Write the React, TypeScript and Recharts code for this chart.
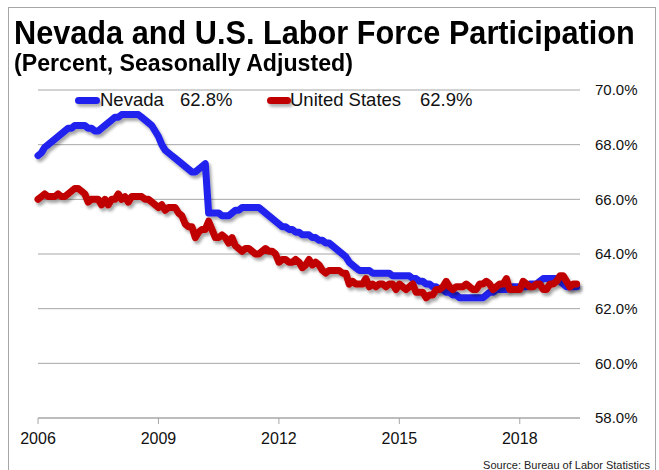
import React from 'react';
import { LineChart, Line, XAxis, YAxis, CartesianGrid } from 'recharts';

// months since Jan 2006, monthly through Jun 2019
const nevada = [
  67.6, 67.7, 67.9, 68.0, 68.1, 68.2, 68.3, 68.4, 68.5, 68.6, 68.6, 68.7,
  68.7, 68.7, 68.7, 68.6, 68.6, 68.5, 68.5, 68.6, 68.7, 68.8, 68.9, 69.0,
  69.0, 69.1, 69.1, 69.1, 69.1, 69.1, 69.1, 69.0, 68.9, 68.8, 68.7, 68.5,
  68.3, 68.0, 67.8, 67.7, 67.6, 67.5, 67.4, 67.3, 67.2, 67.1, 67.0, 67.0,
  67.1, 67.2, 67.3, 65.5, 65.5, 65.5, 65.5, 65.4, 65.4, 65.4, 65.5, 65.6,
  65.6, 65.7, 65.7, 65.7, 65.7, 65.7, 65.7, 65.6, 65.5, 65.4, 65.3, 65.2,
  65.1, 65.0, 65.0, 64.9, 64.9, 64.8, 64.8, 64.7, 64.7, 64.7, 64.6, 64.6,
  64.5, 64.5, 64.4, 64.4, 64.3, 64.2, 64.1, 64.0, 63.9, 63.7, 63.6, 63.5,
  63.4, 63.4, 63.4, 63.4, 63.3, 63.3, 63.3, 63.3, 63.3, 63.3, 63.2, 63.2,
  63.2, 63.2, 63.2, 63.2, 63.1, 63.1, 63.0, 63.0, 62.9, 62.9, 62.8, 62.8,
  62.7, 62.7, 62.6, 62.6, 62.5, 62.5, 62.4, 62.4, 62.4, 62.4, 62.4, 62.4,
  62.4, 62.4, 62.5, 62.6, 62.6, 62.7, 62.7, 62.7, 62.7, 62.8, 62.8, 62.8,
  62.8, 62.8, 62.8, 62.9, 62.9, 62.9, 63.0, 63.1, 63.1, 63.1, 63.1, 63.1,
  63.0, 62.9, 62.8, 62.8, 62.8, 62.8,
];

const unitedStates = [
  66.0, 66.1, 66.2, 66.1, 66.1, 66.1, 66.2, 66.1, 66.1, 66.2, 66.3, 66.4,
  66.4, 66.3, 66.2, 65.9, 66.0, 66.0, 66.0, 65.8, 66.0, 65.8, 66.0, 66.0,
  66.2, 66.0, 66.1, 65.9, 66.1, 66.1, 66.1, 66.1, 66.0, 66.0, 65.9, 65.8,
  65.7, 65.8, 65.6, 65.7, 65.7, 65.7, 65.5, 65.4, 65.1, 65.0, 65.0, 64.6,
  64.8, 64.9, 64.9, 65.2, 64.9, 64.6, 64.6, 64.7, 64.6, 64.4, 64.6, 64.3,
  64.2, 64.1, 64.2, 64.2, 64.1, 64.0, 64.0, 64.1, 64.2, 64.1, 64.1, 64.0,
  63.7, 63.8, 63.8, 63.7, 63.7, 63.8, 63.7, 63.5, 63.6, 63.8, 63.6, 63.7,
  63.6, 63.4, 63.3, 63.4, 63.4, 63.4, 63.4, 63.3, 63.3, 62.9, 63.0, 62.9,
  62.9, 62.9, 63.1, 62.8, 62.9, 62.8, 62.9, 62.9, 62.8, 62.9, 62.9, 62.7,
  62.9, 62.8, 62.7, 62.8, 62.9, 62.6, 62.6, 62.6, 62.4, 62.5, 62.5, 62.7,
  62.7, 62.8, 63.0, 62.8, 62.7, 62.8, 62.8, 62.8, 62.9, 62.8, 62.7, 62.7,
  62.9, 62.9, 63.0, 62.9, 62.7, 62.8, 62.9, 62.9, 63.1, 62.7, 62.7, 62.7,
  62.7, 63.0, 62.9, 62.8, 62.8, 62.9, 62.9, 62.7, 62.7, 62.9, 62.9, 63.0,
  63.2, 63.2, 63.0, 62.8, 62.9, 62.9,
];

const yearTicks = [2006, 2009, 2012, 2015, 2018];
const percentTicks = [58, 60, 62, 64, 66, 68, 70];

const data = nevada.map((v, i) => ({ m: i, nevada: v, us: unitedStates[i] }));

const BLUE = '#2020EE';
const RED = '#C00000';
const FONT = '"Liberation Sans", Arial, sans-serif';

const legendText: React.CSSProperties = {
  position: 'absolute',
  fontFamily: FONT,
  fontSize: 18.5,
  lineHeight: 1,
  color: '#111',
  whiteSpace: 'nowrap',
};

const swatch = (color: string): React.CSSProperties => ({
  position: 'absolute',
  height: 7,
  borderRadius: 3.5,
  background: color,
  boxShadow: '2px 3px 3px rgba(0,0,0,0.3)',
});

const App = () => {
  return (
    <div style={{ position: 'absolute', left: 0, top: 0, width: 659, height: 470, overflow: 'hidden', background: '#fff' }}>
      <div style={{ position: 'absolute', left: 8, top: 7, width: 646, height: 480, border: '1px solid #a6a6a6' }} />
      <div
        style={{
          position: 'absolute', left: 14, top: 16, fontFamily: FONT, fontWeight: 'bold',
          fontSize: 33, lineHeight: 1, whiteSpace: 'nowrap', transform: 'scaleX(0.93)', transformOrigin: 'left',
        }}
      >
        Nevada and U.S. Labor Force Participation
      </div>
      <div
        style={{
          position: 'absolute', left: 14, top: 51, fontFamily: FONT, fontWeight: 'bold',
          fontSize: 24, lineHeight: 1, whiteSpace: 'nowrap', transform: 'scaleX(0.965)', transformOrigin: 'left',
        }}
      >
        (Percent, Seasonally Adjusted)
      </div>

      <LineChart
        width={659}
        height={470}
        data={data}
        margin={{ top: 90, right: 0, left: 38, bottom: 0 }}
        style={{ position: 'absolute', left: 0, top: 0 }}
      >
        <defs>
          <filter id="shadow" x="-5%" y="-10%" width="110%" height="130%">
            <feDropShadow dx="2" dy="3" stdDeviation="1.5" floodColor="#000" floodOpacity="0.35" />
          </filter>
        </defs>
        <CartesianGrid vertical={false} stroke="#a6a6a6" />
        <XAxis
          dataKey="m"
          type="number"
          domain={[0, 162]}
          ticks={yearTicks.map((y) => (y - 2006) * 12)}
          tickFormatter={(m) => String(2006 + m / 12)}
          height={52}
          stroke="#a6a6a6"
          tickSize={6}
          tickMargin={9}
          tick={{ fill: '#111', fontSize: 16, fontFamily: FONT }}
        />
        <YAxis
          orientation="right"
          domain={[58, 70]}
          ticks={percentTicks}
          tickFormatter={(v) => `${v.toFixed(1)}%`}
          width={79}
          axisLine={false}
          tickLine={false}
          tickSize={0}
          tickMargin={15}
          tick={{ fill: '#111', fontSize: 15, fontFamily: FONT, textAnchor: 'start' }}
        />
        <Line
          type="linear"
          dataKey="nevada"
          stroke={BLUE}
          strokeWidth={7}
          strokeLinejoin="round"
          strokeLinecap="round"
          dot={false}
          filter="url(#shadow)"
          isAnimationActive={false}
        />
        <Line
          type="linear"
          dataKey="us"
          stroke={RED}
          strokeWidth={7}
          strokeLinejoin="round"
          strokeLinecap="round"
          dot={false}
          filter="url(#shadow)"
          isAnimationActive={false}
        />
      </LineChart>

      <div style={{ ...swatch(BLUE), left: 75, top: 97, width: 25 }} />
      <div style={{ ...legendText, left: 100, top: 91 }}>Nevada</div>
      <div style={{ ...legendText, left: 180, top: 91 }}>62.8%</div>
      <div style={{ ...swatch(RED), left: 267, top: 97, width: 24 }} />
      <div style={{ ...legendText, left: 290, top: 91 }}>United States</div>
      <div style={{ ...legendText, left: 420, top: 91 }}>62.9%</div>

      <div
        style={{
          position: 'absolute', right: 9, top: 460, fontFamily: FONT, fontSize: 11,
          lineHeight: 1, color: '#222', whiteSpace: 'nowrap',
        }}
      >
        Source: Bureau of Labor Statistics
      </div>
    </div>
  );
};

export default App;
